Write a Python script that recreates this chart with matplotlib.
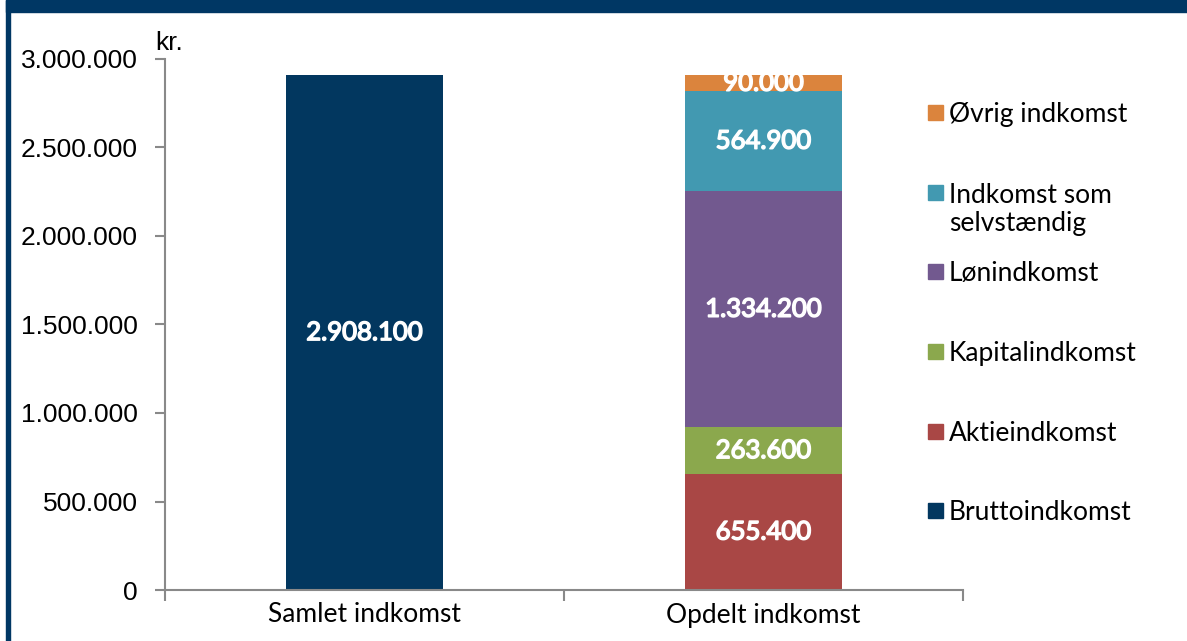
import matplotlib
matplotlib.use("Agg")
import matplotlib.pyplot as plt
from matplotlib.patches import Rectangle
from matplotlib.ticker import FuncFormatter
import matplotlib.patheffects as pe

categories = ["Samlet indkomst", "Opdelt indkomst"]
total_label = "Bruttoindkomst"
total_value = 2908100
components = ["Aktieindkomst", "Kapitalindkomst", "Lønindkomst",
              "Indkomst som\nselvstændig", "Øvrig indkomst"]
component_values = [655400, 263600, 1334200, 564900, 90000]
yticks = [0, 500000, 1000000, 1500000, 2000000, 2500000, 3000000]

navy = "#02375F"
comp_colors = ["#A94745", "#8BA84D", "#72598F", "#4299B1", "#DB843D"]
axis_gray = "#898989"

def fmt(v):
    return f"{int(v):,}".replace(",", ".")

W, H = 1187, 641
fig = plt.figure(figsize=(W / 100, H / 100), dpi=100)
ax = fig.add_axes([165 / W, (H - 590) / H, (963 - 165) / W, (590 - 59) / H])

bold = [pe.withStroke(linewidth=1.1, foreground="white")]
x = [0, 1]
width = 0.395
ax.bar(x[0], total_value, width=width, color=navy, zorder=2)
ax.text(x[0], total_value / 2, fmt(total_value), ha="center", va="center",
        color="white", fontsize=18.5, family="Lato", path_effects=bold)

bottom = 0
for name, val, col in zip(components, component_values, comp_colors):
    ax.bar(x[1], val, width=width, bottom=bottom, color=col, zorder=2)
    ax.text(x[1], bottom + val / 2, fmt(val), ha="center", va="center",
            color="white", fontsize=18.5, family="Lato", zorder=3, path_effects=bold)
    bottom += val

ax.set_xlim(-0.5, 1.5)
ax.set_ylim(0, 3000000)
ax.set_yticks(yticks)
ax.yaxis.set_major_formatter(FuncFormatter(lambda v, p: fmt(v)))
ax.set_xticks([-0.5, 0.5, 1.5], minor=False)
ax.set_xticklabels([])
ax.set_xticks(x, minor=True)
ax.set_xticklabels(categories, minor=True, fontsize=19, family="Lato")
ax.tick_params(axis="x", which="minor", length=0, pad=9)
ax.tick_params(axis="x", which="major", length=8, width=1.5, color=axis_gray, direction="out")
ax.tick_params(axis="y", length=7, width=1.5, color=axis_gray, direction="out", pad=12.5,
               labelsize=19)
for lab in ax.get_yticklabels():
    lab.set_family("Liberation Sans")

for s in ["top", "right"]:
    ax.spines[s].set_visible(False)
for s in ["left", "bottom"]:
    ax.spines[s].set_color(axis_gray)
    ax.spines[s].set_linewidth(1.5)

ax.text(-0.012, 1.008, "kr.", transform=ax.transAxes, ha="left", va="bottom",
        fontsize=19, family="Liberation Sans")

# legend (manual, top to bottom)
leg_names = components[::-1] + [total_label]
leg_colors = comp_colors[::-1] + [navy]
leg_y = [113, 193, 272, 352, 432, 511]
for name, col, yy in zip(leg_names, leg_colors, leg_y):
    fig.add_artist(Rectangle((928 / W, (H - yy - 7) / H), 15 / W, 15 / H,
                             transform=fig.transFigure, color=col))
    if "\n" in name:
        fig.text(949 / W, (H - yy - 16.5) / H, name, ha="left", va="center",
                 fontsize=19, family="Lato", linespacing=1.15)
    else:
        fig.text(949 / W, (H - yy - 1.5) / H, name, ha="left", va="center",
                 fontsize=19, family="Lato")

# frame: top bar and left border
fig.add_artist(Rectangle((6 / W, (H - 12) / H), 1 - 6 / W, 12 / H,
                         transform=fig.transFigure, color="#003764"))
fig.add_artist(Rectangle((6 / W, 0), 4 / W, 1,
                         transform=fig.transFigure, color="#003764"))

fig.savefig("out.png", dpi=100)
